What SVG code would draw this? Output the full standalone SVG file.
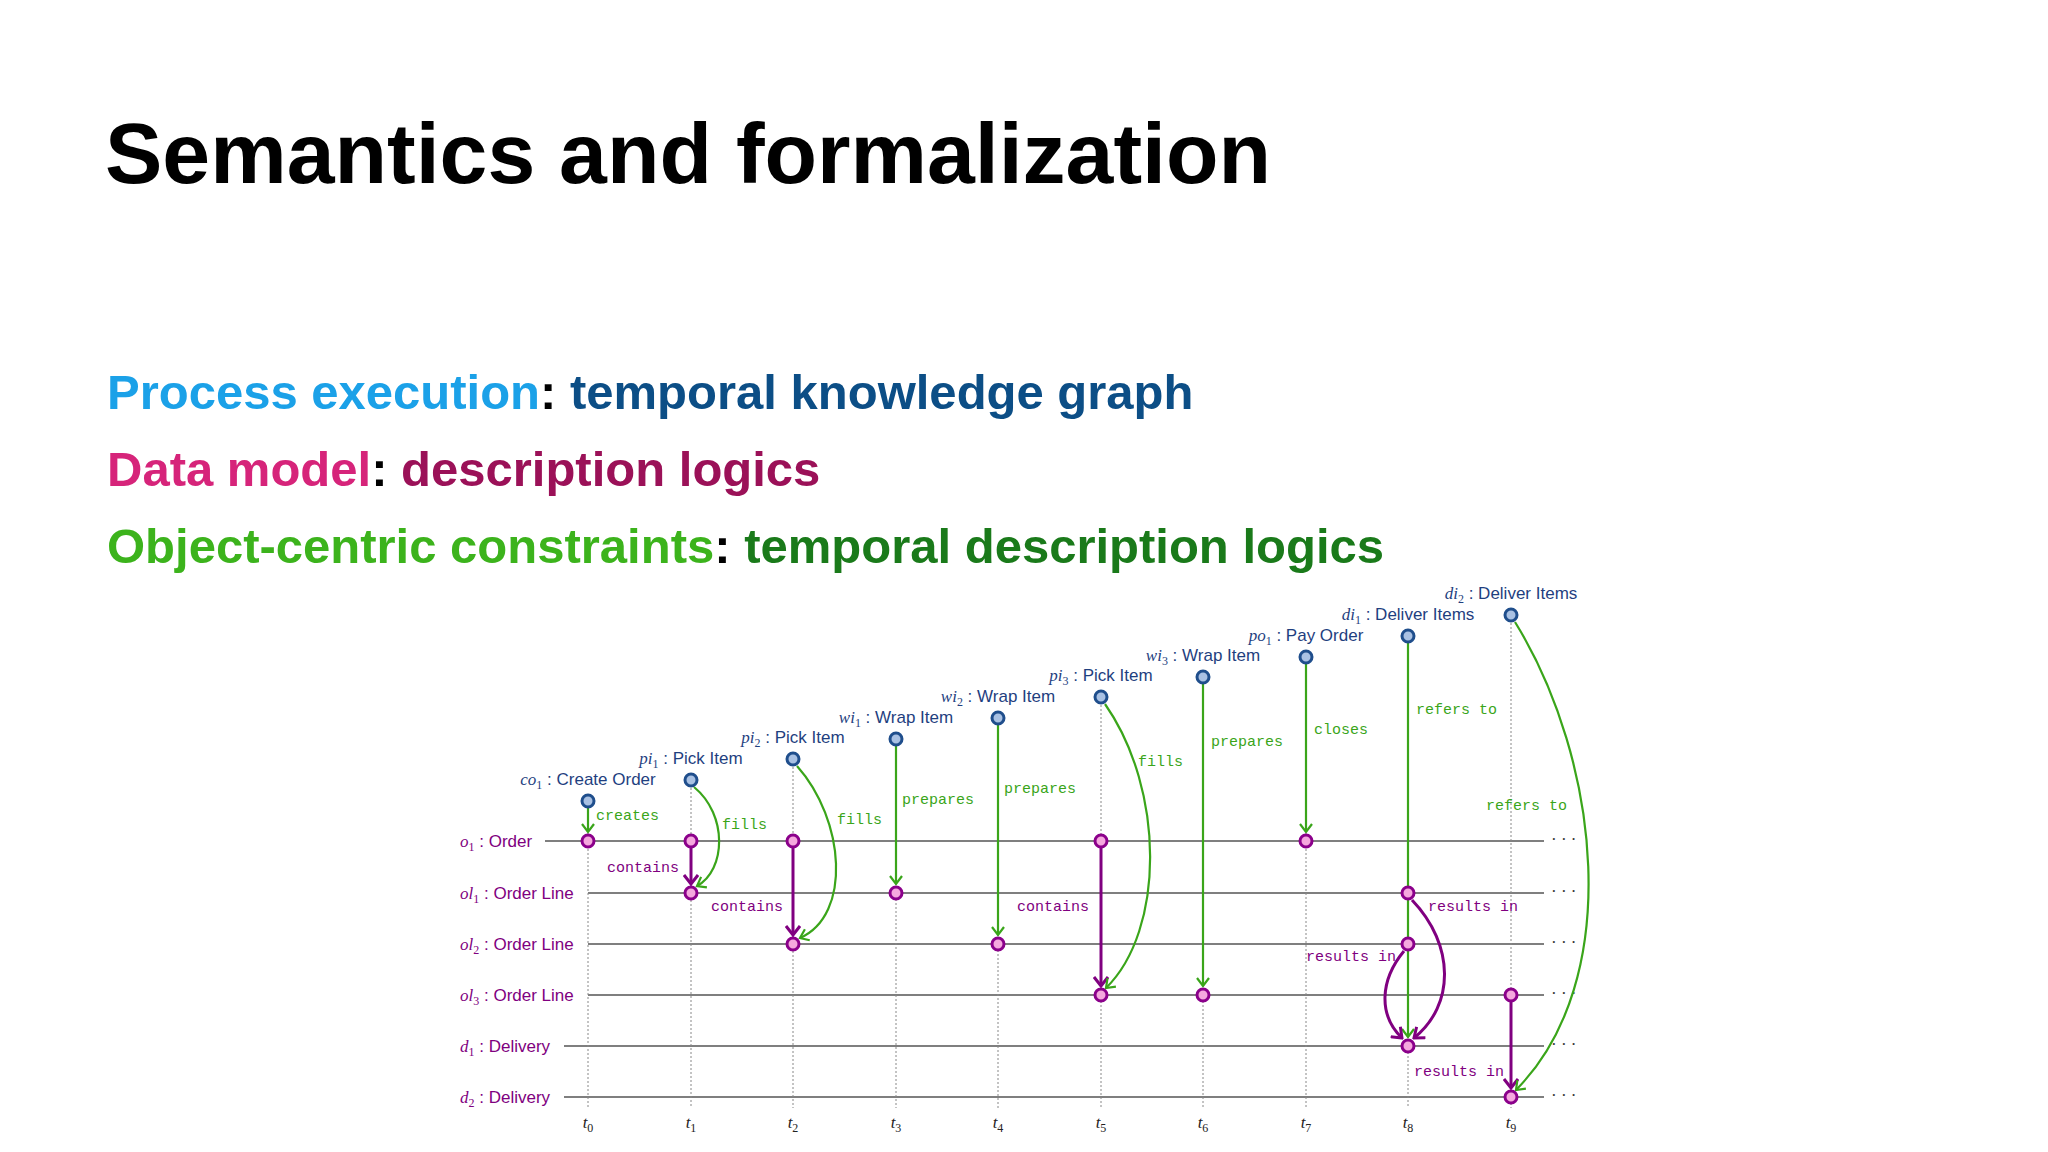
<svg xmlns="http://www.w3.org/2000/svg" width="2048" height="1152" viewBox="0 0 2048 1152">
<defs>
<style>
.title{font-family:"Liberation Sans",Arial,sans-serif;font-weight:bold;font-size:86px;fill:#000}
.sub{font-family:"Liberation Sans",Arial,sans-serif;font-weight:bold;font-size:49px}
.row{font-family:"Liberation Sans",Arial,sans-serif;font-size:17px;fill:#800080}
.ev{font-family:"Liberation Sans",Arial,sans-serif;font-size:17px;fill:#1f3f7f;text-anchor:middle}
.m{font-family:"Liberation Serif","Times New Roman",serif;font-style:italic}
.s{font-family:"Liberation Serif","Times New Roman",serif;font-size:12px;font-style:normal}
.tl{font-family:"Liberation Serif",serif;font-style:italic;font-size:17px;fill:#222;text-anchor:middle}
.gl{font-family:"Liberation Mono","Courier New",monospace;font-size:15px;fill:#3aa51a}
.pl{font-family:"Liberation Mono","Courier New",monospace;font-size:15px;fill:#800080}
.hline{stroke:#555;stroke-width:1.6}
.vline{stroke:#888;stroke-width:1;stroke-dasharray:2 2}
.evn{fill:#a9c1e3;stroke:#1f4e8c;stroke-width:3}
.obn{fill:#f5a8de;stroke:#8b008b;stroke-width:3}
.ga{fill:none;stroke:#3aa51a;stroke-width:2.2;marker-end:url(#gh)}
.pa{fill:none;stroke:#800080;stroke-width:3;marker-end:url(#ph)}
.dots{font-family:"Liberation Serif",serif;font-size:17px;fill:#333}
</style>
<marker id="gh" viewBox="-10 -8 12 16" refX="0" refY="0" markerWidth="12" markerHeight="16" markerUnits="userSpaceOnUse" orient="auto"><path d="M-8,-6 L0,0 L-8,6" fill="none" stroke="#3aa51a" stroke-width="2.2"/></marker>
<marker id="ph" viewBox="-10 -8 12 16" refX="0" refY="0" markerWidth="12" markerHeight="16" markerUnits="userSpaceOnUse" orient="auto"><path d="M-9,-7 L0,0 L-9,7" fill="none" stroke="#800080" stroke-width="3"/></marker>
</defs>
<rect width="2048" height="1152" fill="#fff"/>
<text class="title" x="105" y="183">Semantics and formalization</text>
<text class="sub" x="107" y="409"><tspan fill="#1ba1e8">Process execution</tspan><tspan fill="#000">: </tspan><tspan fill="#0c4e86">temporal knowledge graph</tspan></text>
<text class="sub" x="107" y="486"><tspan fill="#d6247a">Data model</tspan><tspan fill="#000">: </tspan><tspan fill="#9b1158">description logics</tspan></text>
<text class="sub" x="107" y="563"><tspan fill="#3cb31c">Object-centric constraints</tspan><tspan fill="#000">: </tspan><tspan fill="#1a7a1a">temporal description logics</tspan></text>

<g id="grid">
<line class="hline" x1="545" y1="841" x2="1544" y2="841"/>
<line class="hline" x1="588" y1="893" x2="1544" y2="893"/>
<line class="hline" x1="588" y1="944" x2="1544" y2="944"/>
<line class="hline" x1="588" y1="995" x2="1544" y2="995"/>
<line class="hline" x1="564" y1="1046" x2="1544" y2="1046"/>
<line class="hline" x1="564" y1="1097" x2="1544" y2="1097"/>
<line class="vline" x1="588" y1="801" x2="588" y2="1108"/>
<line class="vline" x1="691" y1="780" x2="691" y2="1108"/>
<line class="vline" x1="793" y1="759" x2="793" y2="1108"/>
<line class="vline" x1="896" y1="739" x2="896" y2="1108"/>
<line class="vline" x1="998" y1="718" x2="998" y2="1108"/>
<line class="vline" x1="1101" y1="697" x2="1101" y2="1108"/>
<line class="vline" x1="1203" y1="677" x2="1203" y2="1108"/>
<line class="vline" x1="1306" y1="657" x2="1306" y2="1108"/>
<line class="vline" x1="1408" y1="636" x2="1408" y2="1108"/>
<line class="vline" x1="1511" y1="615" x2="1511" y2="1108"/>
<text class="dots" x="1551" y="845">· · ·</text>
<text class="dots" x="1551" y="897">· · ·</text>
<text class="dots" x="1551" y="948">· · ·</text>
<text class="dots" x="1551" y="999">· · ·</text>
<text class="dots" x="1551" y="1050">· · ·</text>
<text class="dots" x="1551" y="1101">· · ·</text>
<text class="row" x="460" y="847"><tspan class="m">o</tspan><tspan class="s" dy="4">1</tspan><tspan dy="-4"> : Order</tspan></text>
<text class="row" x="460" y="899"><tspan class="m">ol</tspan><tspan class="s" dy="4">1</tspan><tspan dy="-4"> : Order Line</tspan></text>
<text class="row" x="460" y="950"><tspan class="m">ol</tspan><tspan class="s" dy="4">2</tspan><tspan dy="-4"> : Order Line</tspan></text>
<text class="row" x="460" y="1001"><tspan class="m">ol</tspan><tspan class="s" dy="4">3</tspan><tspan dy="-4"> : Order Line</tspan></text>
<text class="row" x="460" y="1052"><tspan class="m">d</tspan><tspan class="s" dy="4">1</tspan><tspan dy="-4"> : Delivery</tspan></text>
<text class="row" x="460" y="1103"><tspan class="m">d</tspan><tspan class="s" dy="4">2</tspan><tspan dy="-4"> : Delivery</tspan></text>
<text class="tl" x="588" y="1128">t<tspan class="s" dy="4">0</tspan></text>
<text class="tl" x="691" y="1128">t<tspan class="s" dy="4">1</tspan></text>
<text class="tl" x="793" y="1128">t<tspan class="s" dy="4">2</tspan></text>
<text class="tl" x="896" y="1128">t<tspan class="s" dy="4">3</tspan></text>
<text class="tl" x="998" y="1128">t<tspan class="s" dy="4">4</tspan></text>
<text class="tl" x="1101" y="1128">t<tspan class="s" dy="4">5</tspan></text>
<text class="tl" x="1203" y="1128">t<tspan class="s" dy="4">6</tspan></text>
<text class="tl" x="1306" y="1128">t<tspan class="s" dy="4">7</tspan></text>
<text class="tl" x="1408" y="1128">t<tspan class="s" dy="4">8</tspan></text>
<text class="tl" x="1511" y="1128">t<tspan class="s" dy="4">9</tspan></text>
</g>

<g id="connectors">
<path class="ga" d="M588,808 L588,832"/>
<path class="pa" d="M691,848 L691,884"/>
<path class="ga" d="M694,787 C728,815 726,870 697,886"/>
<path class="pa" d="M793,848 L793,935"/>
<path class="ga" d="M797,766 C845,820 852,915 800,938"/>
<path class="ga" d="M896,746 L896,884"/>
<path class="ga" d="M998,725 L998,935"/>
<path class="pa" d="M1101,848 L1101,986"/>
<path class="ga" d="M1105,704 C1165,790 1165,930 1106,988"/>
<path class="ga" d="M1203,684 L1203,986"/>
<path class="ga" d="M1306,664 L1306,832"/>
<path class="ga" d="M1408,643 L1408,1037"/>
<path class="pa" d="M1412,900 C1455,945 1455,1005 1414,1038"/>
<path class="pa" d="M1404,951 C1380,980 1378,1015 1402,1038"/>
<path class="pa" d="M1511,1002 L1511,1088"/>
<path class="ga" d="M1515,622 C1600,760 1625,980 1516,1090"/>
<text class="gl" x="596" y="820">creates</text>
<text class="gl" x="722" y="829">fills</text>
<text class="pl" x="607" y="872">contains</text>
<text class="gl" x="837" y="824">fills</text>
<text class="pl" x="711" y="911">contains</text>
<text class="gl" x="902" y="804">prepares</text>
<text class="gl" x="1004" y="793">prepares</text>
<text class="pl" x="1017" y="911">contains</text>
<text class="gl" x="1138" y="766">fills</text>
<text class="gl" x="1211" y="746">prepares</text>
<text class="gl" x="1314" y="734">closes</text>
<text class="gl" x="1416" y="714">refers to</text>
<text class="gl" x="1486" y="810">refers to</text>
<text class="pl" x="1428" y="911">results in</text>
<text class="pl" x="1306" y="961">results in</text>
<text class="pl" x="1414" y="1076">results in</text>
</g>

<g id="o1-t0"><circle class="obn" cx="588" cy="841" r="6"/></g>
<g id="o1-t1"><circle class="obn" cx="691" cy="841" r="6"/></g>
<g id="o1-t2"><circle class="obn" cx="793" cy="841" r="6"/></g>
<g id="o1-t5"><circle class="obn" cx="1101" cy="841" r="6"/></g>
<g id="o1-t7"><circle class="obn" cx="1306" cy="841" r="6"/></g>
<g id="ol1-t1"><circle class="obn" cx="691" cy="893" r="6"/></g>
<g id="ol1-t3"><circle class="obn" cx="896" cy="893" r="6"/></g>
<g id="ol1-t8"><circle class="obn" cx="1408" cy="893" r="6"/></g>
<g id="ol2-t2"><circle class="obn" cx="793" cy="944" r="6"/></g>
<g id="ol2-t4"><circle class="obn" cx="998" cy="944" r="6"/></g>
<g id="ol2-t8"><circle class="obn" cx="1408" cy="944" r="6"/></g>
<g id="ol3-t5"><circle class="obn" cx="1101" cy="995" r="6"/></g>
<g id="ol3-t6"><circle class="obn" cx="1203" cy="995" r="6"/></g>
<g id="ol3-t9"><circle class="obn" cx="1511" cy="995" r="6"/></g>
<g id="d1-t8"><circle class="obn" cx="1408" cy="1046" r="6"/></g>
<g id="d2-t9"><circle class="obn" cx="1511" cy="1097" r="6"/></g>

<g id="co1"><circle class="evn" cx="588" cy="801" r="6"/><text class="ev" x="588" y="785"><tspan class="m">co</tspan><tspan class="s" dy="4">1</tspan><tspan dy="-4"> : Create Order</tspan></text></g>
<g id="pi1"><circle class="evn" cx="691" cy="780" r="6"/><text class="ev" x="691" y="764"><tspan class="m">pi</tspan><tspan class="s" dy="4">1</tspan><tspan dy="-4"> : Pick Item</tspan></text></g>
<g id="pi2"><circle class="evn" cx="793" cy="759" r="6"/><text class="ev" x="793" y="743"><tspan class="m">pi</tspan><tspan class="s" dy="4">2</tspan><tspan dy="-4"> : Pick Item</tspan></text></g>
<g id="wi1"><circle class="evn" cx="896" cy="739" r="6"/><text class="ev" x="896" y="723"><tspan class="m">wi</tspan><tspan class="s" dy="4">1</tspan><tspan dy="-4"> : Wrap Item</tspan></text></g>
<g id="wi2"><circle class="evn" cx="998" cy="718" r="6"/><text class="ev" x="998" y="702"><tspan class="m">wi</tspan><tspan class="s" dy="4">2</tspan><tspan dy="-4"> : Wrap Item</tspan></text></g>
<g id="pi3"><circle class="evn" cx="1101" cy="697" r="6"/><text class="ev" x="1101" y="681"><tspan class="m">pi</tspan><tspan class="s" dy="4">3</tspan><tspan dy="-4"> : Pick Item</tspan></text></g>
<g id="wi3"><circle class="evn" cx="1203" cy="677" r="6"/><text class="ev" x="1203" y="661"><tspan class="m">wi</tspan><tspan class="s" dy="4">3</tspan><tspan dy="-4"> : Wrap Item</tspan></text></g>
<g id="po1"><circle class="evn" cx="1306" cy="657" r="6"/><text class="ev" x="1306" y="641"><tspan class="m">po</tspan><tspan class="s" dy="4">1</tspan><tspan dy="-4"> : Pay Order</tspan></text></g>
<g id="di1"><circle class="evn" cx="1408" cy="636" r="6"/><text class="ev" x="1408" y="620"><tspan class="m">di</tspan><tspan class="s" dy="4">1</tspan><tspan dy="-4"> : Deliver Items</tspan></text></g>
<g id="di2"><circle class="evn" cx="1511" cy="615" r="6"/><text class="ev" x="1511" y="599"><tspan class="m">di</tspan><tspan class="s" dy="4">2</tspan><tspan dy="-4"> : Deliver Items</tspan></text></g>
</svg>
